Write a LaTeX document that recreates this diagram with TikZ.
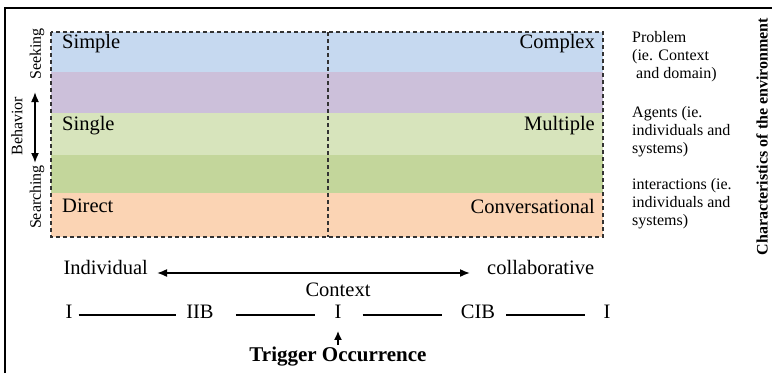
\documentclass[tikz,border=0pt]{standalone}
\usepackage{fontspec}
\setmainfont{Liberation Serif}
\usetikzlibrary{arrows.meta}
\definecolor{bandblue}{HTML}{C6D9F0}
\definecolor{bandpurple}{HTML}{CCC0DA}
\definecolor{bandlgreen}{HTML}{D7E4BC}
\definecolor{bandgreen}{HTML}{C3D69B}
\definecolor{bandorange}{HTML}{FBD4B4}
\definecolor{dashgray}{HTML}{333333}
\tikzset{
  big/.style={inner sep=0pt, font=\fontsize{20.5}{22}\selectfont},
  side/.style={inner sep=0pt, align=left, anchor=north west, font=\fontsize{16}{18}\selectfont},
  vert/.style={inner sep=0pt, rotate=90, font=\fontsize{16}{18}\selectfont},
  rowline/.style={line width=1.8pt},
  bigarrow/.style={line width=1.6pt, {Latex[length=10pt,width=8pt]}-{Latex[length=10pt,width=8pt]}},
  dashbox/.style={dashgray, line width=1.1pt, dash pattern=on 4pt off 3pt}
}
\begin{document}
\begin{tikzpicture}[x=1pt,y=-1pt]
\useasboundingbox (0,0) rectangle (772,373);
% outer frame
\draw[line width=1.4pt] (5,373) -- (5,8) -- (772,8);
% bands
\fill[bandblue]   (51,32)  rectangle (603,72);
\fill[bandpurple] (51,72)  rectangle (603,113);
\fill[bandlgreen] (51,113) rectangle (603,155);
\fill[bandgreen]  (51,155) rectangle (603,193);
\fill[bandorange] (51,193) rectangle (603,237);
\draw[dashbox] (51,32) rectangle (603,237);
\draw[dashbox] (328,32) -- (328,237);
% band labels
\node[big, anchor=west] (simple) at (62,44) {Simple};
\node[big, anchor=east] (complex) at (595,44) {Complex};
\node[big, anchor=west] (single) at (62,126) {Single};
\node[big, anchor=east] (multiple) at (595,126) {Multiple};
\node[big, anchor=west] (direct) at (62,206) {Direct};
\node[big, anchor=east] (conv) at (595,206) {Conversational};
% right texts
\node[side] (prob) at (632,31) {Problem\\(ie. Context\\\ and domain)};
\node[side] (agents) at (632,106) {Agents (ie.\\individuals and\\systems)};
\node[side] (inter) at (632,178) {interactions (ie.\\individuals and\\systems)};
\node[inner sep=0pt, rotate=90, font=\fontsize{16}{18}\selectfont\bfseries] (charac) at (762,136.5) {Characteristics of the environment};
% left
\node[vert] (seeking) at (37,54) {Seeking};
\node[vert] (behavior) at (17,126) {Behavior};
\node[vert] (searching) at (37,197) {Searching};
\coordinate (btop) at (35,92);
\coordinate (bbot) at (35,163);
\draw[bigarrow] (btop) -- (bbot);
% context arrow
\node[big, anchor=east] (indiv) at (148,267) {Individual};
\node[big, anchor=west] (collab) at (487,267) {collaborative};
\draw[bigarrow, shorten <=9pt, shorten >=17pt] ([yshift=-6pt]indiv.east) -- ([yshift=-6pt]collab.west);
\node[big] (context) at (338,290) {Context};
% row
\node[big] (i1) at (69,312) {I};
\node[big] (iib) at (200,312) {IIB};
\node[big] (i2) at (338,312) {I};
\node[big] (cib) at (478,312) {CIB};
\node[big] (i3) at (607,312) {I};
\draw[rowline, shorten <=6pt, shorten >=10pt] ([yshift=-3pt]i1.east) -- ([yshift=-3pt]iib.west);
\draw[rowline, shorten <=22pt, shorten >=19pt] ([yshift=-3pt]iib.east) -- ([yshift=-3pt]i2.west);
\draw[rowline, shorten <=21pt, shorten >=19pt] ([yshift=-3pt]i2.east) -- ([yshift=-3pt]cib.west);
\draw[rowline, shorten <=11pt, shorten >=18pt] ([yshift=-3pt]cib.east) -- ([yshift=-3pt]i3.west);
% trigger
\node[inner sep=0pt, font=\fontsize{21}{23}\selectfont\bfseries] (trigger) at (338,357) {Trigger Occurrence};
\draw[line width=1.6pt, -{Latex[length=9pt,width=8pt]}, shorten <=2pt, shorten >=12pt] (trigger.north) -- (i2.south);
\end{tikzpicture}
\end{document}
